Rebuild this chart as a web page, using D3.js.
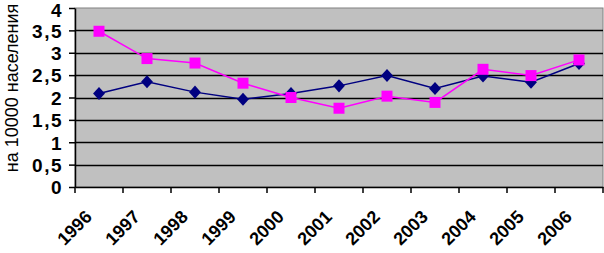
<!DOCTYPE html>
<html><head><meta charset="utf-8">
<script src="https://cdn.jsdelivr.net/npm/d3@7"></script>
<style>body{margin:0;background:#fff}svg{display:block}</style>
</head><body>
<svg id="c" width="604" height="253"></svg>
<script>
const years = ["1996","1997","1998","1999","2000","2001","2002","2003","2004","2005","2006"];
const seriesA = [2.09, 2.35, 2.12, 1.96, 2.09, 2.26, 2.49, 2.2, 2.48, 2.34, 2.76];
const seriesB = [3.48, 2.87, 2.77, 2.32, 2.0, 1.76, 2.03, 1.89, 2.63, 2.49, 2.84];
const yTicks = [0, 0.5, 1, 1.5, 2, 2.5, 3, 3.5, 4];
const yTitle = "на 10000 населения";

const svg = d3.select("#c");
const L = 75, R = 603, T = 8, B = 187;
const x = d3.scaleBand().domain(years).range([L, R]);
const y = d3.scaleLinear().domain([0, 4]).range([B, T]);

svg.append("rect").attr("x", L).attr("y", T).attr("width", R - L).attr("height", B - T)
  .attr("fill", "#c0c0c0").attr("stroke", "#808080").attr("stroke-width", 1);

// gridlines
svg.append("g").selectAll("line").data(yTicks.filter(d => d > 0 && d < 4)).join("line")
  .attr("x1", L).attr("x2", R).attr("y1", d => Math.round(y(d)) + 0.5).attr("y2", d => Math.round(y(d)) + 0.5)
  .attr("stroke", "#000").attr("stroke-width", 1.5);

const fmt = d => String(d).replace(".", ",");
const yAxis = svg.append("g").attr("transform", `translate(${L},0)`)
  .call(d3.axisLeft(y).tickValues(yTicks).tickFormat(fmt).tickSize(6).tickSizeOuter(0));
yAxis.select(".domain").attr("stroke", "#000").attr("stroke-width", 1.5);
yAxis.selectAll(".tick line").attr("stroke", "#000").attr("stroke-width", 1.5);
yAxis.selectAll("text").attr("font-family", "Liberation Sans, Arial, sans-serif")
  .attr("font-size", 19).attr("font-weight", "bold").attr("fill", "#000")
  .attr("letter-spacing", 1.5).attr("x", -12).attr("dy", d => d === 4 ? "0.45em" : "0.36em");

const xAxis = svg.append("g").attr("transform", `translate(0,${B})`)
  .call(d3.axisBottom(x).tickSize(0).tickSizeOuter(0));
xAxis.select(".domain").attr("stroke", "#000").attr("stroke-width", 1.5);
xAxis.selectAll(".tick line").remove();
// category boundary ticks
svg.append("g").selectAll("line").data(years.concat(["end"])).join("line")
  .attr("x1", (d, i) => L + i * x.bandwidth()).attr("x2", (d, i) => L + i * x.bandwidth())
  .attr("y1", B).attr("y2", B + 6).attr("stroke", "#000").attr("stroke-width", 1.5);
xAxis.selectAll("text")
  .attr("font-family", "Liberation Sans, Arial, sans-serif").attr("font-size", 18)
  .attr("font-weight", "bold").attr("fill", "#000")
  .attr("text-anchor", "end").attr("dy", 0).attr("y", 0)
  .attr("transform", `translate(${-6},${31}) rotate(-45)`);

const line = d3.line().x((d, i) => x(years[i]) + x.bandwidth() / 2).y(d => y(d));
svg.append("path").datum(seriesA).attr("d", line).attr("fill", "none").attr("stroke", "#000080").attr("stroke-width", 1.5);
svg.append("path").datum(seriesB).attr("d", line).attr("fill", "none").attr("stroke", "#ff00ff").attr("stroke-width", 1.5);

svg.append("g").selectAll("path").data(seriesA).join("path")
  .attr("d", d3.symbol(d3.symbolDiamond2, 90))
  .attr("transform", (d, i) => `translate(${x(years[i]) + x.bandwidth() / 2},${y(d)}) scale(1,1.1)`)
  .attr("fill", "#000080");
svg.append("g").selectAll("rect").data(seriesB).join("rect")
  .attr("x", (d, i) => x(years[i]) + x.bandwidth() / 2 - 5.5).attr("y", d => y(d) - 5.5)
  .attr("width", 11).attr("height", 11).attr("fill", "#ff00ff");

svg.append("text").attr("transform", "translate(18,88) rotate(-90)")
  .attr("text-anchor", "middle").attr("font-family", "Liberation Sans, Arial, sans-serif")
  .attr("font-size", 18).attr("fill", "#000").text(yTitle);
</script>
</body></html>
